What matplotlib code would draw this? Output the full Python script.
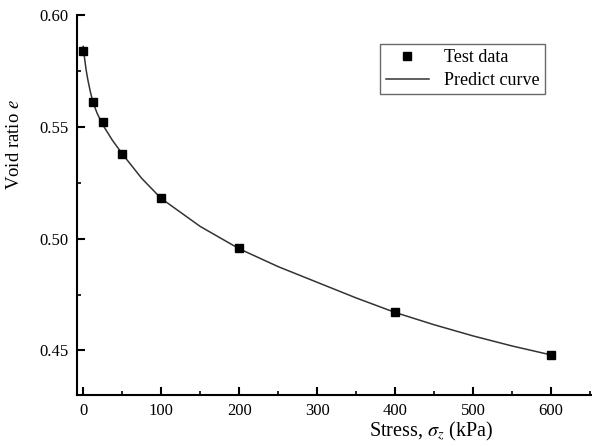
import numpy as np
import matplotlib.pyplot as plt
from matplotlib.ticker import MultipleLocator

# test data
stress = [0, 12.5, 25, 50, 100, 200, 400, 600]
void_ratio = [0.584, 0.561, 0.552, 0.538, 0.518, 0.496, 0.467, 0.448]

# predict curve
curve_stress = [0, 2, 4, 6, 9, 12.5, 18, 25, 37.5, 50, 75, 100, 150, 200,
                250, 300, 350, 400, 450, 500, 550, 600]
curve_e = [0.586, 0.580, 0.575, 0.571, 0.566, 0.561, 0.556, 0.551, 0.544,
           0.538, 0.527, 0.518, 0.5055, 0.4955, 0.4875, 0.4805, 0.4735,
           0.467, 0.4615, 0.4565, 0.452, 0.448]

plt.rcParams['font.family'] = ['Liberation Serif', 'DejaVu Serif']
plt.rcParams['mathtext.fontset'] = 'stix'

fig = plt.figure(figsize=(5.92, 4.46), dpi=100)
ax = fig.add_axes([0.130, 0.114, 0.868, 0.852])

ax.plot(curve_stress, curve_e, color='#333333', lw=1.1, label='Predict curve')
ax.plot(stress, void_ratio, 's', color='black', ms=6, ls='none',
        label='Test data')

ax.set_xlim(-8, 651)
ax.set_ylim(0.43, 0.60)
ax.xaxis.set_major_locator(MultipleLocator(100))
ax.xaxis.set_minor_locator(MultipleLocator(50))
ax.yaxis.set_major_locator(MultipleLocator(0.05))
ax.yaxis.set_minor_locator(MultipleLocator(0.025))
ax.yaxis.set_major_formatter(plt.FormatStrFormatter('%.2f'))

for s in ['top', 'right']:
    ax.spines[s].set_visible(False)
for s in ['left', 'bottom']:
    ax.spines[s].set_linewidth(1.5)

ax.tick_params(which='major', direction='in', length=6, width=1.5,
               labelsize=12, pad=6)
ax.tick_params(which='minor', direction='in', length=3, width=1.2)

ax.set_xlabel(r'Stress, $\sigma_z$ (kPa)', fontsize=14.5, labelpad=1)
ax.xaxis.set_label_coords(0.69, -0.065)
ax.set_ylabel(r'Void ratio $e$', fontsize=13.5)
ax.yaxis.set_label_coords(-0.105, 0.66)

h, l = ax.get_legend_handles_labels()
leg = ax.legend([h[1], h[0]], [l[1], l[0]], loc='upper right',
                bbox_to_anchor=(0.91, 0.924), fontsize=13, frameon=True,
                fancybox=False, edgecolor='#444444', borderpad=0.3,
                handlelength=2.4, labelspacing=0.3, borderaxespad=0)
leg.get_frame().set_linewidth(1.0)

fig.savefig('out.png', dpi=100)
